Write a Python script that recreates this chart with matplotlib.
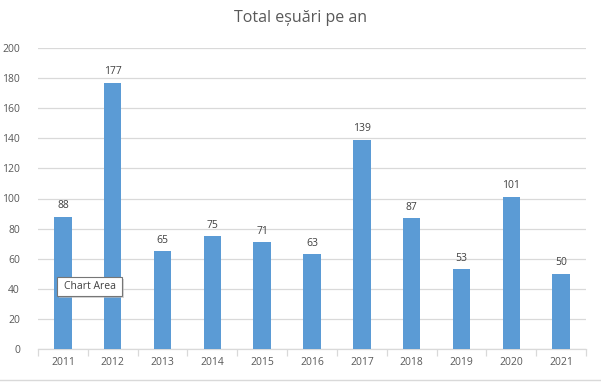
import matplotlib
matplotlib.use("Agg")
import matplotlib.pyplot as plt
from matplotlib.patches import Rectangle
from matplotlib.lines import Line2D

years = ["2011", "2012", "2013", "2014", "2015", "2016", "2017", "2018", "2019", "2020", "2021"]
failures = [88, 177, 65, 75, 71, 63, 139, 87, 53, 101, 50]
title = "Total eșuări pe an"

W, H = 601, 383
fig = plt.figure(figsize=(W / 100, H / 100), dpi=100)
fig.patch.set_facecolor("white")
plt.rcParams['font.family'] = ['Open Sans', 'DejaVu Sans']

ax = fig.add_axes([38 / W, (H - 349) / H, (586 - 38) / W, (349 - 48) / H])
x = list(range(len(years)))
bars = ax.bar(x, failures, width=0.35, color="#5B9BD5", zorder=3)
ax.set_xlim(-0.5, len(years) - 0.5)
ax.set_ylim(0, 200)
ax.set_yticks(range(0, 201, 20))
ax.grid(axis="y", color="#D9D9D9", linewidth=0.9, zorder=0)
for s in ["top", "right", "left"]:
    ax.spines[s].set_visible(False)
ax.spines["bottom"].set_color("#D9D9D9")
ax.spines["bottom"].set_linewidth(0.9)
ax.set_xticks(x)
ax.set_xticklabels(years)
ax.set_xticks([i - 0.5 for i in range(len(years) + 1)], minor=True)
ax.tick_params(axis="x", which="major", length=0, pad=6, labelsize=7.5, colors="#595959")
ax.tick_params(axis="x", which="minor", length=5, color="#D9D9D9", width=0.9)
ax.tick_params(axis="y", length=0, pad=13, labelsize=7.5, colors="#595959")
for lbl in ax.get_yticklabels():
    lbl.set_horizontalalignment("right")

for xi, v in zip(x, failures):
    ax.annotate(str(v), (xi, v), xytext=(0, 4), textcoords="offset points",
                ha="center", va="bottom", fontsize=7.5, color="#404040")

fig.text(0.5, (H - 18) / H, title, ha="center", va="center", fontsize=11.5, color="#595959")

# bottom border line of chart area
fig.add_artist(Line2D([0, 1], [(H - 380) / H, (H - 380) / H], transform=fig.transFigure,
                      color="#D9D9D9", linewidth=1))

# "Chart Area" tooltip
bx0, by0, bx1, by1 = 57, 277, 122, 296
fig.add_artist(Rectangle(((bx0 + 2) / W, (H - by1 - 2) / H), (bx1 - bx0) / W, (by1 - by0) / H,
                         transform=fig.transFigure, facecolor="#BFBFBF", edgecolor="none", alpha=0.6, zorder=9))
fig.add_artist(Rectangle((bx0 / W, (H - by1) / H), (bx1 - bx0) / W, (by1 - by0) / H,
                         transform=fig.transFigure, facecolor="white", edgecolor="#767676", linewidth=0.8, zorder=10))
fig.text((bx0 + bx1) / 2 / W, (H - (by0 + by1) / 2) / H, "Chart Area", ha="center", va="center",
         fontsize=7.5, color="#404040", zorder=11)

fig.savefig("out.png", dpi=100, facecolor="white")
